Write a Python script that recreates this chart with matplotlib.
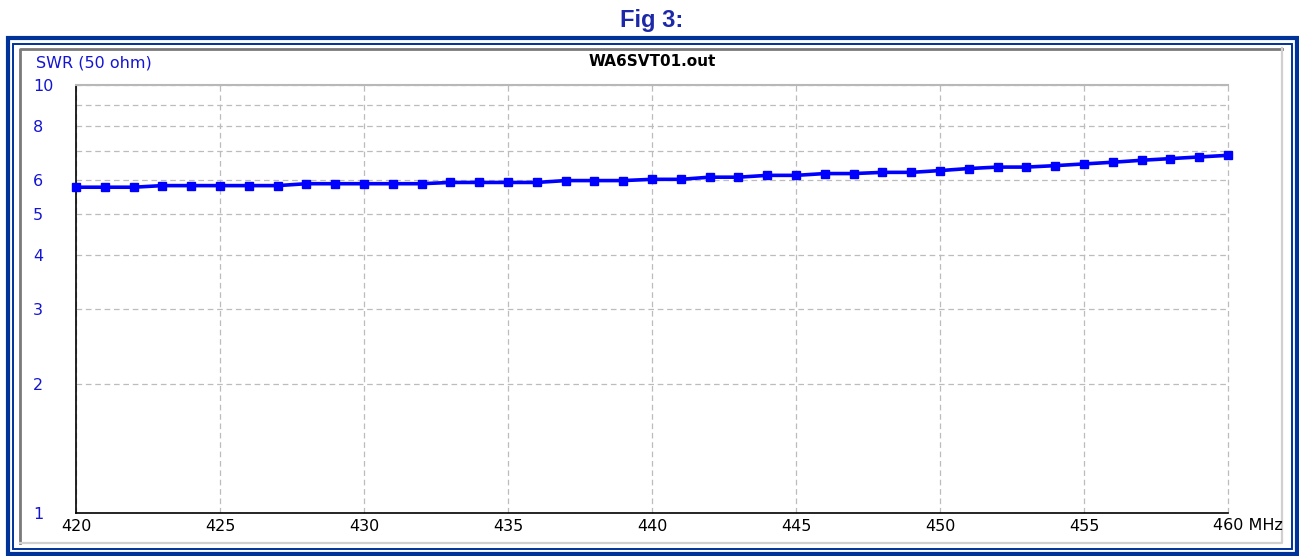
import matplotlib.pyplot as plt
from matplotlib.patches import Rectangle
from matplotlib.lines import Line2D

"""
SWR sweep plot, 420-460 MHz, drawn in the style of an antenna modeler window.
"""

freq_mhz = list(range(420, 461))
swr = [5.77, 5.77, 5.77, 5.82, 5.82, 5.82, 5.82, 5.82, 5.88, 5.88,
       5.88, 5.88, 5.88, 5.92, 5.92, 5.92, 5.92, 5.98, 5.98, 5.98,
       6.02, 6.02, 6.09, 6.09, 6.15, 6.15, 6.21, 6.21, 6.25, 6.25,
       6.31, 6.38, 6.43, 6.43, 6.48, 6.54, 6.60, 6.67, 6.73, 6.79,
       6.85]

x_ticks = [420, 425, 430, 435, 440, 445, 450, 455, 460]
x_labels = ["420", "425", "430", "435", "440", "445", "450", "455", ""]
y_ticks = [1, 2, 3, 4, 5, 6, 8, 10]
y_minor = [7, 9]

NAVY = "#003399"
TITLE_BLUE = "#1c28a8"
LABEL_BLUE = "#1414d4"
GRID = "#bcbcbc"
FS = 11.5

W, H = 1299, 556
fig = plt.figure(figsize=(W / 100, H / 100), dpi=100)
fig.patch.set_facecolor("white")

# background layer in pixel coordinates for the window frame
bg = fig.add_axes([0, 0, 1, 1], zorder=0)
bg.set_xlim(0, W)
bg.set_ylim(H, 0)
bg.axis("off")

bg.add_patch(Rectangle((8, 38), 1289, 516, fill=False, ec=NAVY, lw=3))
bg.add_patch(Rectangle((13.5, 43.5), 1279, 505, fill=False, ec=NAVY, lw=1.4))
# sunken gray panel
bg.add_line(Line2D([20, 20, 1282], [543, 48.5, 48.5], color="#7a7a7a", lw=2))
bg.add_line(Line2D([20, 1282, 1282], [543, 543, 48], color="#d0d0d0", lw=1.6))

fig.text(652 / W, 1 - 21 / H, "Fig 3:", ha="center", va="center",
         fontsize=17, fontweight="bold", color=TITLE_BLUE, family="Liberation Sans")

ax = fig.add_axes([76 / W, 1 - 513 / H, (1228 - 76) / W, (513 - 85) / H], zorder=1)
ax.set_facecolor("white")

ax.plot(freq_mhz, swr, color="#0000ff", lw=2.6, marker="s", markersize=6,
        clip_on=False, zorder=3)

ax.set_yscale("log")
ax.set_xlim(420, 460)
ax.set_ylim(1, 10)

ax.set_xticks(x_ticks)
ax.set_xticklabels(x_labels)
ax.set_yticks(y_ticks)
ax.set_yticklabels([str(v) for v in y_ticks])
ax.set_yticks(y_minor, minor=True)
ax.yaxis.set_minor_formatter(plt.NullFormatter())

ax.tick_params(axis="both", which="both", length=0)
ax.tick_params(axis="x", pad=4.5, labelsize=FS, labelcolor="black")
ax.tick_params(axis="y", pad=31, labelsize=FS, labelcolor=LABEL_BLUE)
for lbl in ax.get_yticklabels():
    lbl.set_horizontalalignment("left")

ax.grid(True, which="both", color=GRID, lw=0.9, linestyle=(0, (4.5, 3)))
ax.set_axisbelow(True)
for gl in ax.xaxis.get_gridlines():
    gl.set_clip_on(False)

for side in ["left", "bottom"]:
    ax.spines[side].set_color("black")
    ax.spines[side].set_linewidth(1.2)
ax.spines["top"].set_color("#b8b8b8")
ax.spines["top"].set_linewidth(1.5)
ax.spines["right"].set_visible(False)

# last tick carries the unit, left-shifted like the original window
ax.annotate("460 MHz", xy=(460, 0), xycoords=("data", "axes fraction"),
            xytext=(-11, -3.4), textcoords="offset points",
            ha="left", va="top", fontsize=FS, color="black")

fig.text(36 / W, 1 - 63 / H, "SWR (50 ohm)", ha="left", va="center",
         fontsize=FS, color=LABEL_BLUE)
fig.text(652 / W, 1 - 61 / H, "WA6SVT01.out", ha="center", va="center",
         fontsize=11, fontweight="bold", color="black")

fig.savefig("out.png", dpi=100)
